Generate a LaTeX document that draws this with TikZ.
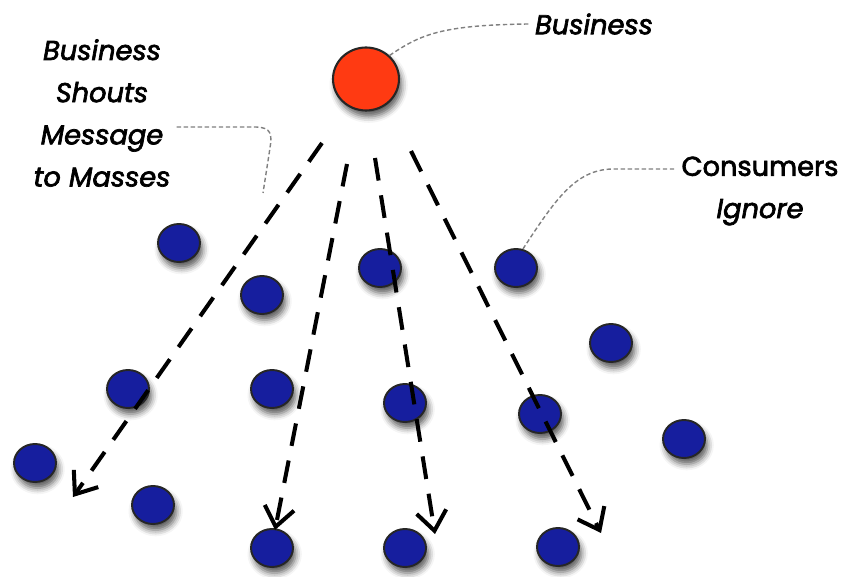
\documentclass[tikz,border=0pt]{standalone}
\usepackage{fontspec}
\setmainfont{Poppins}
\usetikzlibrary{arrows.meta,shapes.geometric,shadows.blur}
\definecolor{bizred}{RGB}{255,58,18}
\definecolor{crowd}{RGB}{22,30,158}
\tikzset{
  shade/.style={blur shadow={shadow xshift=1.5pt,shadow yshift=-3.5pt,shadow blur radius=3.5pt,shadow opacity=65}},
  person/.style={ellipse,draw=black!85,line width=1.1pt,fill=crowd,minimum width=0.84cm,minimum height=0.76cm,inner sep=0pt,shade},
  shout/.style={->,line width=2.3pt,dash pattern=on 13pt off 8.5pt},
  note/.style={gray,line width=0.8pt,dash pattern=on 2.5pt off 1.5pt},
  lbl/.style={font=\fontsize{15.5}{24}\selectfont\addfontfeature{FakeBold=2.5},align=center}
}
\begin{document}
\begin{tikzpicture}[x=0.02cm,y=-0.02cm,>={Straight Barb[length=11pt,width=17pt,line width=2.3pt]}]
\useasboundingbox (0,0) rectangle (848,577);
% the crowd
\foreach \x/\y [count=\i] in {179/243,262/295,380/268,516/268,611/343,128/389,272/389,405/403,540/414,684/439,35/463,153/505,272/548,405/548,558/547}
  \node[person] (c\i) at (\x,\y) {};
% the one who shouts
\node[ellipse,draw=black!85,line width=1.2pt,fill=bizred,minimum width=1.32cm,minimum height=1.26cm,shade] (biz) at (366,79) {};
% message going out
\foreach \n/\sx/\sy/\ex/\ey in {a/322/143/73/497,b/347/164/275/530,c/375/158/435/534,d/411/151/601/533}{
  \coordinate (s\n) at (\sx,\sy); \coordinate (e\n) at (\ex,\ey);
  \draw[shout] (s\n) -- (e\n);}
% labels
\node[lbl] (tbiz) at (594,24) {\itshape Business};
\node[lbl] (tshout) at (102,113) {\itshape Business\\\itshape Shouts\\\itshape Message\\\itshape to Masses};
\node[lbl] (tign) at (760,191) {Consumers\\\itshape Ignore};
\draw[note] (biz.45) .. controls (420,35) and (440,25) .. (tbiz.west);
\coordinate (p) at (263,193);
\draw[note] (tshout.east|-0,127) -- (255,127) .. controls (272,127) and (272,135) .. (270,148) -- (p);
\draw[note] (c4.70) .. controls (555,200) and (575,170) .. (612,169) -- (tign.west|-0,169);
\end{tikzpicture}
\end{document}
